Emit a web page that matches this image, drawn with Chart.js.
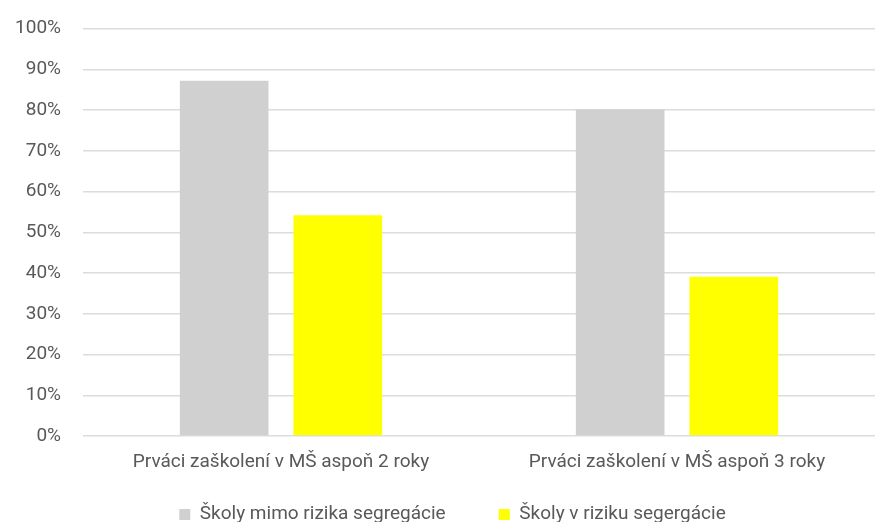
<!DOCTYPE html>
<html>
<head>
<meta charset="utf-8">
<script src="https://cdn.jsdelivr.net/npm/chart.js@4"></script>
<style>
  html, body { margin: 0; padding: 0; background: #fff; }
  #wrap { width: 875px; height: 522px; }
</style>
</head>
<body>
<div id="wrap"><canvas id="c"></canvas></div>
<script>
// kategórie a hodnoty (v %)
const categories = ["Prváci zaškolení v MŠ aspoň 2 roky", "Prváci zaškolení v MŠ aspoň 3 roky"];
const mimoRizika = [87.2, 80.1];
const vRiziku = [54.2, 39.1];
const seriesNames = ["Školy mimo rizika segregácie", "Školy v riziku segergácie"];

const font = "Roboto, sans-serif";
const gray = "#595959";

// posun legendy trochu doprava ako v origináli
const shiftLegend = {
  id: "shiftLegend",
  afterLayout(chart) {
    chart.legend.left += 10;
    chart.legend.right += 10;
  }
};

new Chart(document.getElementById("c"), {
  type: "bar",
  data: {
    labels: categories,
    datasets: [
      { label: seriesNames[0], data: mimoRizika, backgroundColor: "#d0d0d0",
        categoryPercentage: 0.574, barPercentage: 0.78 },
      { label: seriesNames[1], data: vRiziku, backgroundColor: "#ffff00",
        categoryPercentage: 0.574, barPercentage: 0.78 }
    ]
  },
  plugins: [shiftLegend],
  options: {
    responsive: true,
    maintainAspectRatio: false,
    animation: false,
    layout: { padding: { left: 0, right: -10, top: 28.5, bottom: -12 } },
    plugins: {
      tooltip: { enabled: false },
      legend: {
        position: "bottom",
        labels: {
          boxWidth: 11, boxHeight: 11, padding: 6,
          color: gray, font: { family: font, size: 19 },
          // medzera medzi položkami legendy
          generateLabels: chart => {
            const items = Chart.defaults.plugins.legend.labels.generateLabels(chart);
            items[0].text += "          ";
            return items;
          }
        }
      }
    },
    scales: {
      x: {
        grid: { display: false },
        border: { display: false },
        ticks: { color: gray, padding: 7, font: { family: font, size: 19 } },
        afterFit: s => { s.height = 63; }
      },
      y: {
        min: 0, max: 100,
        border: { display: false },
        grid: { color: "#dcdcdc", lineWidth: 1.5, drawTicks: false },
        ticks: {
          stepSize: 10, padding: 22, color: gray,
          font: { family: font, size: 19 },
          callback: v => v + "%"
        },
        afterFit: s => { s.width = 83; s.paddingTop = 0; }
      }
    }
  }
});
</script>
</body>
</html>
